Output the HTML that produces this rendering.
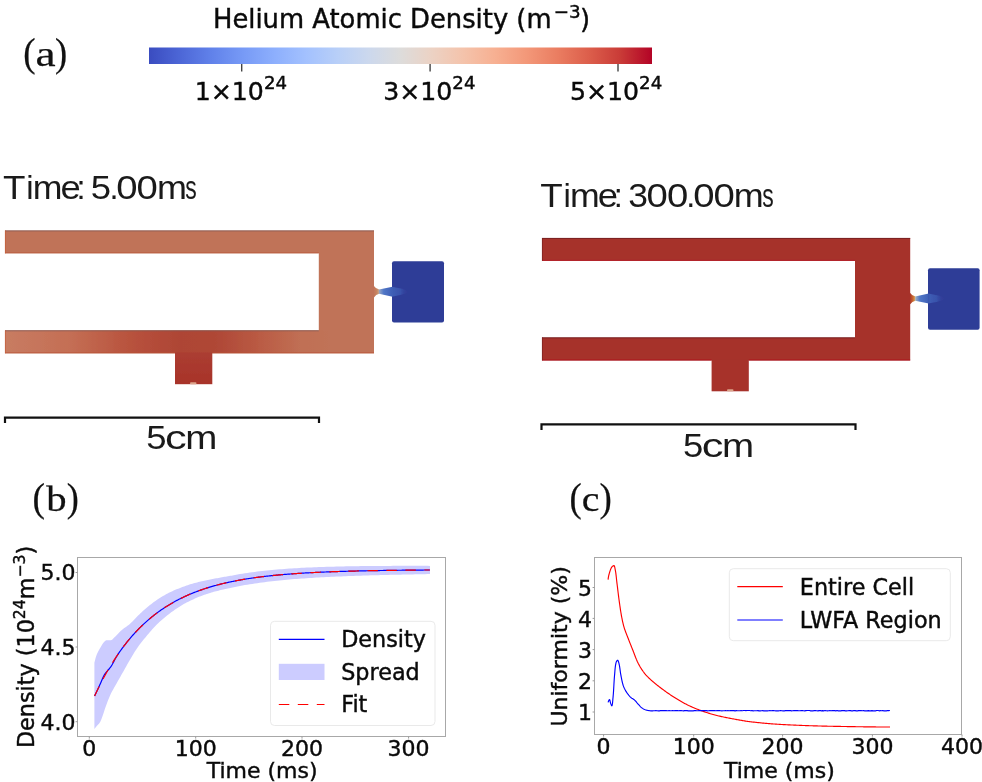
<!DOCTYPE html>
<html lang="en">
<head>
<meta charset="utf-8">
<title>Helium Atomic Density figure</title>
<style>
  html, body { margin: 0; padding: 0; background: #ffffff; }
  body { width: 982px; height: 782px; overflow: hidden; }
  svg { display: block; position: absolute; left: 0; top: 0; filter: blur(0.45px); }
  .mp  { font-family: "DejaVu Sans", "Liberation Sans", sans-serif; fill: #0a0a0a; stroke: #0a0a0a; stroke-width: 0.42; }
  .pv  { font-family: "Liberation Sans", "DejaVu Sans", sans-serif; fill: #1a1a1a; }
  .tex { font-family: "Liberation Serif", "DejaVu Serif", serif; fill: #111; stroke: #111; stroke-width: 0.25; }
  .spine { fill: none; stroke: #a8a8a8; stroke-width: 1; }
  .tick  { stroke: #9a9a9a; stroke-width: 1; }
</style>
</head>
<body>
<svg width="982" height="782" viewBox="0 0 982 782">
  <defs>
    <linearGradient id="coolwarm" x1="0" y1="0" x2="1" y2="0">
      <stop offset="0" stop-color="#3a4cc0"/>
      <stop offset="0.0625" stop-color="#4d67d7"/>
      <stop offset="0.125" stop-color="#6182ea"/>
      <stop offset="0.1875" stop-color="#779af6"/>
      <stop offset="0.25" stop-color="#8daffd"/>
      <stop offset="0.3125" stop-color="#a3c1fe"/>
      <stop offset="0.375" stop-color="#b8cff8"/>
      <stop offset="0.4375" stop-color="#ccd8ed"/>
      <stop offset="0.5" stop-color="#dddcdb"/>
      <stop offset="0.5625" stop-color="#ecd2c4"/>
      <stop offset="0.625" stop-color="#f4c3ab"/>
      <stop offset="0.6875" stop-color="#f7b092"/>
      <stop offset="0.75" stop-color="#f39879"/>
      <stop offset="0.8125" stop-color="#ea7d61"/>
      <stop offset="0.875" stop-color="#dc5e4b"/>
      <stop offset="0.9375" stop-color="#c93b37"/>
      <stop offset="1" stop-color="#b30326"/>
    </linearGradient>
    <linearGradient id="armL" x1="5" y1="0" x2="374" y2="0" gradientUnits="userSpaceOnUse">
      <stop offset="0" stop-color="#c87c62"/>
      <stop offset="0.18" stop-color="#c46e54"/>
      <stop offset="0.34" stop-color="#b8523d"/>
      <stop offset="0.475" stop-color="#ae4535"/>
      <stop offset="0.57" stop-color="#af4736"/>
      <stop offset="0.69" stop-color="#ba5b44"/>
      <stop offset="0.80" stop-color="#c06f54"/>
      <stop offset="0.88" stop-color="#c07358"/>
      <stop offset="1" stop-color="#c07358"/>
    </linearGradient>
    <linearGradient id="inletL" x1="0" y1="353" x2="0" y2="384" gradientUnits="userSpaceOnUse">
      <stop offset="0" stop-color="#ab3d31"/>
      <stop offset="1" stop-color="#a8332a"/>
    </linearGradient>
    <linearGradient id="jet" x1="0" y1="0" x2="1" y2="0">
      <stop offset="0" stop-color="#3f5fb6" stop-opacity="1"/>
      <stop offset="0.5" stop-color="#3b58b0" stop-opacity="0.8"/>
      <stop offset="1" stop-color="#2f3c97" stop-opacity="0"/>
    </linearGradient>
    <linearGradient id="nzLa" x1="373.5" y1="0" x2="379.3" y2="0" gradientUnits="userSpaceOnUse">
      <stop offset="0" stop-color="#c07358"/><stop offset="0.6" stop-color="#c98560"/><stop offset="1" stop-color="#bfae9a"/>
    </linearGradient>
    <linearGradient id="nzLb" x1="379" y1="0" x2="392.5" y2="0" gradientUnits="userSpaceOnUse">
      <stop offset="0" stop-color="#97a6c4"/><stop offset="0.35" stop-color="#5076c6"/><stop offset="1" stop-color="#3f5fb6"/>
    </linearGradient>
    <linearGradient id="nzRa" x1="909.7" y1="0" x2="915.5" y2="0" gradientUnits="userSpaceOnUse">
      <stop offset="0" stop-color="#a6312b"/><stop offset="0.55" stop-color="#c8662f"/><stop offset="1" stop-color="#d9b56a"/>
    </linearGradient>
    <linearGradient id="nzRb" x1="915.2" y1="0" x2="928.7" y2="0" gradientUnits="userSpaceOnUse">
      <stop offset="0" stop-color="#a4b2c0"/><stop offset="0.35" stop-color="#5076c6"/><stop offset="1" stop-color="#3f5fb6"/>
    </linearGradient>
    <filter id="soft" x="-5%" y="-5%" width="110%" height="110%">
      <feGaussianBlur stdDeviation="0.6"/>
    </filter>
  </defs>

  <!-- ================= (a) header: title + colourbar ================= -->
  <text class="mp" x="401.5" y="27.6" font-size="25.8" text-anchor="middle" stroke-width="0.6">Helium Atomic Density (m<tspan font-size="18.3" dy="-10" dx="2.2">−3</tspan><tspan dy="10" dx="-0.8">)</tspan></text>

  <text class="tex" font-size="35.3" y="66.0"><tspan x="23.27" textLength="12.32" lengthAdjust="spacingAndGlyphs" font-size="40">(</tspan><tspan x="35.41" textLength="20.11" lengthAdjust="spacingAndGlyphs">a</tspan><tspan x="54.92" textLength="12.19" lengthAdjust="spacingAndGlyphs" font-size="40">)</tspan></text>

  <rect x="149" y="47.5" width="503" height="16.5" fill="url(#coolwarm)"/>
  <g stroke="#444" stroke-width="1.4">
    <line x1="241.7" y1="64" x2="241.7" y2="71.5"/>
    <line x1="430.1" y1="64" x2="430.1" y2="71.5"/>
    <line x1="618" y1="64" x2="618" y2="71.5"/>
  </g>
  <g class="mp" font-size="25.2" text-anchor="middle" stroke-width="0.75">
    <text x="240.9" y="99.7">1×10<tspan font-size="18.2" dy="-10.6">24</tspan></text>
    <text x="429.3" y="99.7">3×10<tspan font-size="18.2" dy="-10.6">24</tspan></text>
    <text x="616.1" y="99.7">5×10<tspan font-size="18.2" dy="-10.6">24</tspan></text>
  </g>

  <!-- ================= left ParaView snapshot ================= -->
  <text class="pv" font-size="33.1" y="199.3"><tspan x="3.07" textLength="22.47" lengthAdjust="spacingAndGlyphs">T</tspan><tspan x="26.29" textLength="7.33" lengthAdjust="spacingAndGlyphs">i</tspan><tspan x="32.73" textLength="29.72" lengthAdjust="spacingAndGlyphs">m</tspan><tspan x="60.55" textLength="20.27" lengthAdjust="spacingAndGlyphs">e</tspan><tspan x="76.53" textLength="9.05" lengthAdjust="spacingAndGlyphs">:</tspan><tspan x="85.90"> </tspan><tspan x="90.84" textLength="20.29" lengthAdjust="spacingAndGlyphs">5</tspan><tspan x="109.43" textLength="9.05" lengthAdjust="spacingAndGlyphs">.</tspan><tspan x="116.30" textLength="21.29" lengthAdjust="spacingAndGlyphs">0</tspan><tspan x="136.60" textLength="21.29" lengthAdjust="spacingAndGlyphs">0</tspan><tspan x="156.91" textLength="29.96" lengthAdjust="spacingAndGlyphs">m</tspan><tspan x="185.36" textLength="11.47" lengthAdjust="spacingAndGlyphs">s</tspan></text>
  <g filter="url(#soft)">
    <!-- U-shaped cell -->
    <path d="M5,230.5 H374 V353.2 H5 V330.4 H318.8 V253.3 H5 Z" fill="#c07358"/>
    <rect x="5" y="330.4" width="369" height="22.8" fill="url(#armL)"/>
    <g fill="none" stroke-width="1">
      <path d="M5,230.9 H374 M5,330.8 H318.8" stroke="#7d5a55" stroke-opacity="0.75"/>
      <path d="M5,252.9 H318.8 M5,352.8 H175 M212.3,352.8 H374" stroke="#b85334" stroke-opacity="0.7"/>
      <path d="M5.4,230.5 V253.3 M5.4,330.4 V353.2" stroke="#c4603c" stroke-opacity="0.8"/>
    </g>
    <!-- inlet -->
    <rect x="175" y="352.5" width="37.3" height="31.7" fill="url(#inletL)"/>
    <rect x="190" y="382.2" width="6.5" height="2" rx="1" fill="#dca58c"/>
    <!-- nozzle + reservoir -->
    <path d="M373.5,285.5 Q376,289.09999999999997 379.3,289.59999999999997 L379.3,293.8 Q376,294.3 373.5,297.9 Z" fill="url(#nzLa)"/>
    <path d="M379.0,289.59999999999997 L392.5,286.7 V296.7 L379.0,293.8 Z" fill="url(#nzLb)"/>
    <rect x="392" y="261.3" width="52" height="61.3" rx="2" fill="#2f3c97"/>
    <path d="M392,286.7 Q401,288.3 409,290.9 V292.5 Q401,295.09999999999997 392,296.7 Z" fill="url(#jet)"/>
  </g>
  <!-- scale bar -->
  <path d="M5,423 V417.6 H319 V423" fill="none" stroke="#111" stroke-width="2.2"/>
  <text class="pv" font-size="32.5" y="449.4"><tspan x="146.34" textLength="20.29" lengthAdjust="spacingAndGlyphs">5</tspan><tspan x="164.96" textLength="21.69" lengthAdjust="spacingAndGlyphs">c</tspan><tspan x="185.34" textLength="32.10" lengthAdjust="spacingAndGlyphs">m</tspan></text>

  <!-- ================= right ParaView snapshot ================= -->
  <text class="pv" font-size="33.1" y="206.5"><tspan x="540.37" textLength="22.47" lengthAdjust="spacingAndGlyphs">T</tspan><tspan x="563.59" textLength="7.33" lengthAdjust="spacingAndGlyphs">i</tspan><tspan x="570.03" textLength="29.72" lengthAdjust="spacingAndGlyphs">m</tspan><tspan x="597.85" textLength="20.27" lengthAdjust="spacingAndGlyphs">e</tspan><tspan x="613.83" textLength="9.05" lengthAdjust="spacingAndGlyphs">:</tspan><tspan x="623.20"> </tspan><tspan x="628.25" textLength="19.71" lengthAdjust="spacingAndGlyphs">3</tspan><tspan x="646.60" textLength="21.29" lengthAdjust="spacingAndGlyphs">0</tspan><tspan x="666.90" textLength="21.29" lengthAdjust="spacingAndGlyphs">0</tspan><tspan x="686.33" textLength="9.05" lengthAdjust="spacingAndGlyphs">.</tspan><tspan x="693.20" textLength="21.29" lengthAdjust="spacingAndGlyphs">0</tspan><tspan x="713.50" textLength="21.29" lengthAdjust="spacingAndGlyphs">0</tspan><tspan x="733.81" textLength="29.96" lengthAdjust="spacingAndGlyphs">m</tspan><tspan x="762.26" textLength="11.47" lengthAdjust="spacingAndGlyphs">s</tspan></text>
  <g filter="url(#soft)">
    <path d="M542,238 H910.2 V360.4 H542 V337.4 H855 V260.8 H542 Z" fill="#a6312b"/>
    <g fill="none" stroke-width="1">
      <path d="M542,238.4 H910.2 M542,337.8 H855" stroke="#6e1f1f" stroke-opacity="0.8"/>
      <path d="M542,260.4 H855 M542,360 H711.6 M748.8,360 H910.2" stroke="#b0141c" stroke-opacity="0.85"/>
      <path d="M542.4,238 V260.8 M542.4,337.4 V360.4" stroke="#7a2020" stroke-opacity="0.7"/>
    </g>
    <rect x="711.6" y="359.8" width="37.2" height="31.5" fill="#a7322a"/>
    <rect x="727" y="389.3" width="6.5" height="2" rx="1" fill="#dca58c"/>
    <path d="M909.7,292.40000000000003 Q912.2,296.0 915.5,296.5 L915.5,300.70000000000005 Q912.2,301.20000000000005 909.7,304.8 Z" fill="url(#nzRa)"/>
    <path d="M915.2,296.5 L928.7,293.6 V303.6 L915.2,300.70000000000005 Z" fill="url(#nzRb)"/>
    <rect x="928" y="268.3" width="51.6" height="61.5" rx="2" fill="#2f3c97"/>
    <path d="M928.2,293.6 Q937.2,295.20000000000005 945.2,297.8 V299.40000000000003 Q937.2,302.0 928.2,303.6 Z" fill="url(#jet)"/>
  </g>
  <path d="M541.5,430 V424.4 H855.5 V430" fill="none" stroke="#111" stroke-width="2.2"/>
  <text class="pv" font-size="32.5" y="457.0"><tspan x="683.04" textLength="20.29" lengthAdjust="spacingAndGlyphs">5</tspan><tspan x="701.66" textLength="21.69" lengthAdjust="spacingAndGlyphs">c</tspan><tspan x="722.04" textLength="32.10" lengthAdjust="spacingAndGlyphs">m</tspan></text>

  <!-- ================= (b) density plot ================= -->
  <text class="tex" font-size="35.3" y="510.5"><tspan x="32.46" textLength="12.45" lengthAdjust="spacingAndGlyphs" font-size="40">(</tspan><tspan x="46.30" textLength="20.35" lengthAdjust="spacingAndGlyphs">b</tspan><tspan x="66.63" textLength="12.06" lengthAdjust="spacingAndGlyphs" font-size="40">)</tspan></text>
  <path d="M94.40,662.70 L95.58,657.88 L96.76,654.44 L97.94,651.97 L99.13,649.87 L100.31,647.75 L101.49,645.66 L102.67,643.75 L103.85,642.14 L105.03,641.12 L106.22,640.37 L107.40,640.20 L108.58,640.20 L109.76,640.20 L110.94,640.20 L112.12,639.67 L113.30,638.48 L114.49,637.37 L115.67,636.24 L116.85,635.04 L118.03,633.80 L119.21,632.57 L120.39,631.36 L121.57,630.24 L122.76,629.22 L123.94,628.31 L125.12,627.46 L126.30,626.64 L127.48,625.80 L128.66,624.90 L129.85,623.91 L131.03,622.82 L132.21,621.65 L133.39,620.43 L134.57,619.19 L135.75,617.96 L136.93,616.75 L138.12,615.60 L139.30,614.46 L140.48,613.33 L141.66,612.20 L142.84,611.10 L144.02,610.02 L145.21,608.98 L146.39,607.98 L147.57,606.99 L148.75,606.02 L149.93,605.07 L151.11,604.14 L152.29,603.23 L153.48,602.34 L154.66,601.47 L155.84,600.63 L157.02,599.82 L158.20,599.04 L159.38,598.27 L160.56,597.52 L161.75,596.79 L162.93,596.08 L164.11,595.39 L165.29,594.72 L166.47,594.07 L167.65,593.44 L168.84,592.83 L170.02,592.25 L171.20,591.68 L172.38,591.14 L173.56,590.61 L174.74,590.10 L175.92,589.60 L177.11,589.11 L178.29,588.64 L179.47,588.18 L180.65,587.72 L181.83,587.28 L183.01,586.83 L184.19,586.40 L185.38,585.97 L186.56,585.55 L187.74,585.14 L188.92,584.74 L190.10,584.36 L191.28,583.99 L192.47,583.64 L193.65,583.30 L194.83,582.99 L196.01,582.69 L197.19,582.39 L198.37,582.11 L199.55,581.84 L200.74,581.58 L201.92,581.31 L203.10,581.06 L204.28,580.80 L205.46,580.54 L206.64,580.29 L207.83,580.04 L209.01,579.79 L210.19,579.54 L211.37,579.30 L212.55,579.06 L213.73,578.83 L214.91,578.60 L216.10,578.37 L217.28,578.15 L218.46,577.93 L219.64,577.71 L220.82,577.49 L222.00,577.28 L223.18,577.07 L224.37,576.86 L225.55,576.65 L226.73,576.45 L227.91,576.25 L229.09,576.05 L230.27,575.85 L231.46,575.66 L232.64,575.47 L233.82,575.28 L235.00,575.10 L237.47,574.52 L239.94,574.09 L242.41,573.68 L244.87,573.29 L247.34,572.91 L249.81,572.55 L252.28,572.21 L254.75,571.89 L257.22,571.57 L259.68,571.27 L262.15,570.99 L264.62,570.72 L267.09,570.46 L269.56,570.21 L272.03,569.97 L274.49,569.75 L276.96,569.53 L279.43,569.32 L281.90,569.13 L284.37,568.94 L286.84,568.76 L289.30,568.59 L291.77,568.43 L294.24,568.28 L296.71,568.13 L299.18,567.99 L301.65,567.86 L304.11,567.73 L306.58,567.61 L309.05,567.50 L311.52,567.39 L313.99,567.28 L316.46,567.19 L318.92,567.09 L321.39,567.01 L323.86,566.92 L326.33,566.84 L328.80,566.77 L331.27,566.70 L333.73,566.63 L336.20,566.57 L338.67,566.51 L341.14,566.45 L343.61,566.40 L346.08,566.35 L348.54,566.31 L351.01,566.26 L353.48,566.22 L355.95,566.18 L358.42,566.15 L360.89,566.12 L363.35,566.09 L365.82,566.06 L368.29,566.03 L370.76,566.01 L373.23,565.99 L375.70,565.97 L378.16,565.95 L380.63,565.93 L383.10,565.92 L385.57,565.90 L388.04,565.89 L390.51,565.88 L392.97,565.87 L395.44,565.86 L397.91,565.86 L400.38,565.85 L402.85,565.85 L405.32,565.85 L407.78,565.85 L410.25,565.85 L412.72,565.85 L415.19,565.85 L417.66,565.85 L420.13,565.85 L422.59,565.86 L425.06,565.86 L427.53,565.87 L430.00,565.88 L430.00,574.08 L427.53,574.12 L425.06,574.16 L422.59,574.20 L420.13,574.25 L417.66,574.29 L415.19,574.34 L412.72,574.38 L410.25,574.43 L407.78,574.48 L405.32,574.53 L402.85,574.58 L400.38,574.63 L397.91,574.68 L395.44,574.74 L392.97,574.79 L390.51,574.85 L388.04,574.91 L385.57,574.97 L383.10,575.03 L380.63,575.09 L378.16,575.16 L375.70,575.22 L373.23,575.29 L370.76,575.36 L368.29,575.43 L365.82,575.51 L363.35,575.58 L360.89,575.66 L358.42,575.74 L355.95,575.83 L353.48,575.91 L351.01,576.00 L348.54,576.09 L346.08,576.19 L343.61,576.28 L341.14,576.39 L338.67,576.49 L336.20,576.60 L333.73,576.71 L331.27,576.82 L328.80,576.94 L326.33,577.06 L323.86,577.19 L321.39,577.32 L318.92,577.46 L316.46,577.60 L313.99,577.74 L311.52,577.90 L309.05,578.05 L306.58,578.21 L304.11,578.38 L301.65,578.56 L299.18,578.74 L296.71,578.93 L294.24,579.12 L291.77,579.32 L289.30,579.53 L286.84,579.75 L284.37,579.98 L281.90,580.21 L279.43,580.46 L276.96,580.71 L274.49,580.98 L272.03,581.25 L269.56,581.54 L267.09,581.83 L264.62,582.14 L262.15,582.46 L259.68,582.79 L257.22,583.14 L254.75,583.50 L252.28,583.88 L249.81,584.27 L247.34,584.67 L244.87,585.09 L242.41,585.53 L239.94,585.99 L237.47,586.47 L235.00,587.00 L233.82,587.21 L232.64,587.44 L231.46,587.67 L230.27,587.90 L229.09,588.15 L227.91,588.40 L226.73,588.66 L225.55,588.92 L224.37,589.19 L223.18,589.47 L222.00,589.75 L220.82,590.04 L219.64,590.33 L218.46,590.63 L217.28,590.93 L216.10,591.23 L214.91,591.55 L213.73,591.87 L212.55,592.20 L211.37,592.55 L210.19,592.90 L209.01,593.26 L207.83,593.63 L206.64,594.02 L205.46,594.41 L204.28,594.82 L203.10,595.24 L201.92,595.69 L200.74,596.14 L199.55,596.61 L198.37,597.09 L197.19,597.59 L196.01,598.10 L194.83,598.61 L193.65,599.14 L192.47,599.68 L191.28,600.23 L190.10,600.80 L188.92,601.38 L187.74,601.97 L186.56,602.59 L185.38,603.21 L184.19,603.86 L183.01,604.52 L181.83,605.21 L180.65,605.91 L179.47,606.64 L178.29,607.39 L177.11,608.17 L175.92,608.98 L174.74,609.80 L173.56,610.64 L172.38,611.50 L171.20,612.37 L170.02,613.26 L168.84,614.16 L167.65,615.08 L166.47,616.01 L165.29,616.97 L164.11,617.95 L162.93,618.95 L161.75,619.97 L160.56,621.02 L159.38,622.10 L158.20,623.22 L157.02,624.36 L155.84,625.55 L154.66,626.79 L153.48,628.06 L152.29,629.37 L151.11,630.70 L149.93,632.06 L148.75,633.44 L147.57,634.84 L146.39,636.24 L145.21,637.65 L144.02,639.07 L142.84,640.52 L141.66,641.99 L140.48,643.51 L139.30,645.08 L138.12,646.71 L136.93,648.42 L135.75,650.22 L134.57,652.10 L133.39,654.04 L132.21,656.03 L131.03,658.03 L129.85,660.04 L128.66,662.06 L127.48,664.10 L126.30,666.19 L125.12,668.29 L123.94,670.39 L122.76,672.49 L121.57,674.58 L120.39,676.66 L119.21,678.74 L118.03,680.82 L116.85,682.91 L115.67,685.01 L114.49,687.12 L113.30,689.24 L112.12,691.34 L110.94,693.62 L109.76,696.19 L108.58,698.99 L107.40,701.97 L106.22,705.15 L105.03,708.61 L103.85,712.14 L102.67,715.77 L101.49,718.99 L100.31,721.78 L99.13,723.56 L97.94,724.80 L96.76,725.97 L95.58,727.41 L94.40,729.00 Z" fill="#ccccff"/>
  <path d="M94.57,696.06 L95.41,694.25 L96.25,692.46 L97.09,690.70 L97.93,688.94 L98.77,687.16 L99.61,685.35 L100.46,683.46 L101.30,681.49 L102.14,679.48 L102.98,677.53 L103.82,675.77 L104.66,674.28 L105.50,673.06 L106.34,672.04 L107.18,671.11 L108.02,670.20 L108.86,669.25 L109.70,668.23 L110.54,667.11 L111.38,665.87 L112.22,664.49 L113.06,662.98 L113.90,661.40 L114.74,659.82 L115.58,658.28 L116.42,656.82 L117.26,655.45 L118.10,654.14 L118.94,652.90 L119.78,651.69 L120.62,650.50 L121.47,649.34 L122.31,648.20 L123.15,647.08 L123.99,645.97 L124.83,644.87 L125.67,643.80 L126.51,642.74 L127.35,641.69 L128.19,640.66 L129.03,639.64 L129.87,638.64 L130.71,637.65 L131.55,636.68 L132.39,635.72 L133.23,634.77 L134.07,633.84 L134.91,632.92 L135.75,632.01 L136.59,631.12 L137.43,630.24 L138.27,629.37 L139.11,628.52 L139.95,627.67 L140.79,626.84 L141.63,626.02 L142.47,625.22 L143.32,624.42 L144.16,623.64 L145.00,622.86 L145.84,622.10 L146.68,621.35 L147.52,620.61 L148.36,619.88 L149.20,619.16 L150.04,618.45 L150.88,617.75 L151.72,617.06 L152.56,616.38 L153.40,615.71 L154.24,615.05 L155.08,614.40 L155.92,613.76 L156.76,613.13 L157.60,612.51 L158.44,611.89 L159.28,611.29 L160.12,610.69 L160.96,610.10 L161.80,609.52 L162.64,608.95 L163.48,608.39 L164.33,607.83 L165.17,607.29 L166.01,606.75 L166.85,606.21 L167.69,605.69 L168.53,605.17 L169.37,604.66 L170.21,604.16 L171.05,603.67 L171.89,603.18 L172.73,602.70 L173.57,602.23 L174.41,601.76 L175.25,601.30 L176.09,600.84 L176.93,600.40 L177.77,599.96 L178.61,599.52 L179.45,599.09 L180.29,598.67 L181.13,598.26 L181.97,597.84 L182.81,597.44 L183.65,597.04 L184.49,596.65 L185.34,596.26 L186.18,595.88 L187.02,595.50 L187.86,595.13 L188.70,594.77 L189.54,594.41 L190.38,594.05 L191.22,593.70 L192.06,593.36 L192.90,593.02 L193.74,592.68 L194.58,592.35 L195.42,592.02 L196.26,591.70 L197.10,591.39 L197.94,591.07 L198.78,590.77 L199.62,590.46 L200.46,590.17 L201.30,589.87 L202.14,589.58 L202.98,589.29 L203.82,589.01 L204.66,588.73 L205.50,588.46 L206.34,588.19 L207.19,587.92 L208.03,587.66 L208.87,587.40 L209.71,587.15 L210.55,586.90 L211.39,586.65 L212.23,586.40 L213.07,586.16 L213.91,585.93 L214.75,585.69 L215.59,585.46 L216.43,585.23 L217.27,585.01 L218.11,584.79 L218.95,584.57 L219.79,584.36 L220.63,584.15 L221.47,583.94 L222.31,583.73 L223.15,583.53 L223.99,583.33 L224.83,583.13 L225.67,582.94 L226.51,582.75 L227.35,582.56 L228.20,582.37 L229.04,582.19 L229.88,582.01 L230.72,581.83 L231.56,581.66 L232.40,581.48 L233.24,581.31 L234.08,581.15 L234.92,580.98 L235.76,580.82 L236.60,580.66 L237.44,580.50 L238.28,580.34 L239.12,580.19 L239.96,580.04 L240.80,579.89 L241.64,579.74 L242.48,579.59 L243.32,579.45 L244.16,579.31 L245.00,579.17 L245.84,579.03 L246.68,578.90 L247.52,578.76 L248.36,578.63 L249.21,578.50 L250.05,578.37 L250.89,578.25 L251.73,578.12 L252.57,578.00 L253.41,577.88 L254.25,577.76 L255.09,577.65 L255.93,577.53 L256.77,577.42 L257.61,577.30 L258.45,577.19 L259.29,577.08 L260.13,576.98 L260.97,576.87 L261.81,576.77 L262.65,576.66 L263.49,576.56 L264.33,576.46 L265.17,576.36 L266.01,576.27 L266.85,576.17 L267.69,576.08 L268.53,575.98 L269.37,575.89 L270.22,575.80 L271.06,575.71 L271.90,575.62 L272.74,575.54 L273.58,575.45 L274.42,575.37 L275.26,575.29 L276.10,575.20 L276.94,575.12 L277.78,575.04 L278.62,574.97 L279.46,574.89 L280.30,574.81 L281.14,574.74 L281.98,574.66 L282.82,574.59 L283.66,574.52 L284.50,574.45 L285.34,574.38 L286.18,574.31 L287.02,574.24 L287.86,574.18 L288.70,574.11 L289.54,574.05 L290.38,573.98 L291.22,573.92 L292.07,573.86 L292.91,573.79 L293.75,573.73 L294.59,573.67 L295.43,573.62 L296.27,573.56 L297.11,573.50 L297.95,573.45 L298.79,573.39 L299.63,573.34 L300.47,573.28 L301.31,573.23 L302.15,573.18 L302.99,573.12 L303.83,573.07 L304.67,573.02 L305.51,572.97 L306.35,572.93 L307.19,572.88 L308.03,572.83 L308.87,572.78 L309.71,572.74 L310.55,572.69 L311.39,572.65 L312.23,572.60 L313.08,572.56 L313.92,572.52 L314.76,572.48 L315.60,572.43 L316.44,572.39 L317.28,572.35 L318.12,572.31 L318.96,572.27 L319.80,572.24 L320.64,572.20 L321.48,572.16 L322.32,572.12 L323.16,572.09 L324.00,572.05 L324.84,572.01 L325.68,571.98 L326.52,571.95 L327.36,571.91 L328.20,571.88 L329.04,571.85 L329.88,571.81 L330.72,571.78 L331.56,571.75 L332.40,571.72 L333.24,571.69 L334.09,571.66 L334.93,571.63 L335.77,571.60 L336.61,571.57 L337.45,571.54 L338.29,571.51 L339.13,571.48 L339.97,571.46 L340.81,571.43 L341.65,571.40 L342.49,571.38 L343.33,571.35 L344.17,571.33 L345.01,571.30 L345.85,571.28 L346.69,571.25 L347.53,571.23 L348.37,571.20 L349.21,571.18 L350.05,571.16 L350.89,571.14 L351.73,571.11 L352.57,571.09 L353.41,571.07 L354.25,571.05 L355.09,571.03 L355.94,571.01 L356.78,570.99 L357.62,570.97 L358.46,570.95 L359.30,570.93 L360.14,570.91 L360.98,570.89 L361.82,570.87 L362.66,570.85 L363.50,570.83 L364.34,570.81 L365.18,570.80 L366.02,570.78 L366.86,570.76 L367.70,570.74 L368.54,570.73 L369.38,570.71 L370.22,570.69 L371.06,570.68 L371.90,570.66 L372.74,570.65 L373.58,570.63 L374.42,570.62 L375.26,570.60 L376.10,570.59 L376.95,570.57 L377.79,570.56 L378.63,570.54 L379.47,570.53 L380.31,570.52 L381.15,570.50 L381.99,570.49 L382.83,570.48 L383.67,570.46 L384.51,570.45 L385.35,570.44 L386.19,570.43 L387.03,570.41 L387.87,570.40 L388.71,570.39 L389.55,570.38 L390.39,570.37 L391.23,570.36 L392.07,570.34 L392.91,570.33 L393.75,570.32 L394.59,570.31 L395.43,570.30 L396.27,570.29 L397.11,570.28 L397.95,570.27 L398.80,570.26 L399.64,570.25 L400.48,570.24 L401.32,570.23 L402.16,570.22 L403.00,570.21 L403.84,570.20 L404.68,570.19 L405.52,570.19 L406.36,570.18 L407.20,570.17 L408.04,570.16 L408.88,570.15 L409.72,570.14 L410.56,570.13 L411.40,570.13 L412.24,570.12 L413.08,570.11 L413.92,570.10 L414.76,570.10 L415.60,570.09 L416.44,570.08 L417.28,570.07 L418.12,570.07 L418.96,570.06 L419.81,570.05 L420.65,570.05 L421.49,570.04 L422.33,570.03 L423.17,570.03 L424.01,570.02 L424.85,570.01 L425.69,570.01 L426.53,570.00 L427.37,569.99 L428.21,569.99 L429.05,569.98 L429.89,569.98" fill="none" stroke="#0000ff" stroke-width="1.2" stroke-linejoin="round"/>
  <path d="M94.57,696.06 L95.41,694.25 L96.25,692.47 L97.09,690.71 L97.93,688.98 L98.77,687.27 L99.61,685.59 L100.46,683.93 L101.30,682.29 L102.14,680.68 L102.98,679.09 L103.82,677.52 L104.66,675.98 L105.50,674.46 L106.34,672.96 L107.18,671.48 L108.02,670.02 L108.86,668.58 L109.70,667.17 L110.54,665.77 L111.38,664.40 L112.22,663.04 L113.06,661.70 L113.90,660.38 L114.74,659.09 L115.58,657.81 L116.42,656.54 L117.26,655.30 L118.10,654.07 L118.94,652.86 L119.78,651.67 L120.62,650.50 L121.47,649.34 L122.31,648.20 L123.15,647.08 L123.99,645.97 L124.83,644.87 L125.67,643.80 L126.51,642.74 L127.35,641.69 L128.19,640.66 L129.03,639.64 L129.87,638.64 L130.71,637.65 L131.55,636.68 L132.39,635.72 L133.23,634.77 L134.07,633.84 L134.91,632.92 L135.75,632.01 L136.59,631.12 L137.43,630.24 L138.27,629.37 L139.11,628.52 L139.95,627.67 L140.79,626.84 L141.63,626.02 L142.47,625.22 L143.32,624.42 L144.16,623.64 L145.00,622.86 L145.84,622.10 L146.68,621.35 L147.52,620.61 L148.36,619.88 L149.20,619.16 L150.04,618.45 L150.88,617.75 L151.72,617.06 L152.56,616.38 L153.40,615.71 L154.24,615.05 L155.08,614.40 L155.92,613.76 L156.76,613.13 L157.60,612.51 L158.44,611.89 L159.28,611.29 L160.12,610.69 L160.96,610.10 L161.80,609.52 L162.64,608.95 L163.48,608.39 L164.33,607.83 L165.17,607.29 L166.01,606.75 L166.85,606.21 L167.69,605.69 L168.53,605.17 L169.37,604.66 L170.21,604.16 L171.05,603.67 L171.89,603.18 L172.73,602.70 L173.57,602.23 L174.41,601.76 L175.25,601.30 L176.09,600.84 L176.93,600.40 L177.77,599.96 L178.61,599.52 L179.45,599.09 L180.29,598.67 L181.13,598.26 L181.97,597.84 L182.81,597.44 L183.65,597.04 L184.49,596.65 L185.34,596.26 L186.18,595.88 L187.02,595.50 L187.86,595.13 L188.70,594.77 L189.54,594.41 L190.38,594.05 L191.22,593.70 L192.06,593.36 L192.90,593.02 L193.74,592.68 L194.58,592.35 L195.42,592.02 L196.26,591.70 L197.10,591.39 L197.94,591.07 L198.78,590.77 L199.62,590.46 L200.46,590.17 L201.30,589.87 L202.14,589.58 L202.98,589.29 L203.82,589.01 L204.66,588.73 L205.50,588.46 L206.34,588.19 L207.19,587.92 L208.03,587.66 L208.87,587.40 L209.71,587.15 L210.55,586.90 L211.39,586.65 L212.23,586.40 L213.07,586.16 L213.91,585.93 L214.75,585.69 L215.59,585.46 L216.43,585.23 L217.27,585.01 L218.11,584.79 L218.95,584.57 L219.79,584.36 L220.63,584.15 L221.47,583.94 L222.31,583.73 L223.15,583.53 L223.99,583.33 L224.83,583.13 L225.67,582.94 L226.51,582.75 L227.35,582.56 L228.20,582.37 L229.04,582.19 L229.88,582.01 L230.72,581.83 L231.56,581.66 L232.40,581.48 L233.24,581.31 L234.08,581.15 L234.92,580.98 L235.76,580.82 L236.60,580.66 L237.44,580.50 L238.28,580.34 L239.12,580.19 L239.96,580.04 L240.80,579.89 L241.64,579.74 L242.48,579.59 L243.32,579.45 L244.16,579.31 L245.00,579.17 L245.84,579.03 L246.68,578.90 L247.52,578.76 L248.36,578.63 L249.21,578.50 L250.05,578.37 L250.89,578.25 L251.73,578.12 L252.57,578.00 L253.41,577.88 L254.25,577.76 L255.09,577.65 L255.93,577.53 L256.77,577.42 L257.61,577.30 L258.45,577.19 L259.29,577.08 L260.13,576.98 L260.97,576.87 L261.81,576.77 L262.65,576.66 L263.49,576.56 L264.33,576.46 L265.17,576.36 L266.01,576.27 L266.85,576.17 L267.69,576.08 L268.53,575.98 L269.37,575.89 L270.22,575.80 L271.06,575.71 L271.90,575.62 L272.74,575.54 L273.58,575.45 L274.42,575.37 L275.26,575.29 L276.10,575.20 L276.94,575.12 L277.78,575.04 L278.62,574.97 L279.46,574.89 L280.30,574.81 L281.14,574.74 L281.98,574.66 L282.82,574.59 L283.66,574.52 L284.50,574.45 L285.34,574.38 L286.18,574.31 L287.02,574.24 L287.86,574.18 L288.70,574.11 L289.54,574.05 L290.38,573.98 L291.22,573.92 L292.07,573.86 L292.91,573.79 L293.75,573.73 L294.59,573.67 L295.43,573.62 L296.27,573.56 L297.11,573.50 L297.95,573.45 L298.79,573.39 L299.63,573.34 L300.47,573.28 L301.31,573.23 L302.15,573.18 L302.99,573.12 L303.83,573.07 L304.67,573.02 L305.51,572.97 L306.35,572.93 L307.19,572.88 L308.03,572.83 L308.87,572.78 L309.71,572.74 L310.55,572.69 L311.39,572.65 L312.23,572.60 L313.08,572.56 L313.92,572.52 L314.76,572.48 L315.60,572.43 L316.44,572.39 L317.28,572.35 L318.12,572.31 L318.96,572.27 L319.80,572.24 L320.64,572.20 L321.48,572.16 L322.32,572.12 L323.16,572.09 L324.00,572.05 L324.84,572.01 L325.68,571.98 L326.52,571.95 L327.36,571.91 L328.20,571.88 L329.04,571.85 L329.88,571.81 L330.72,571.78 L331.56,571.75 L332.40,571.72 L333.24,571.69 L334.09,571.66 L334.93,571.63 L335.77,571.60 L336.61,571.57 L337.45,571.54 L338.29,571.51 L339.13,571.48 L339.97,571.46 L340.81,571.43 L341.65,571.40 L342.49,571.38 L343.33,571.35 L344.17,571.33 L345.01,571.30 L345.85,571.28 L346.69,571.25 L347.53,571.23 L348.37,571.20 L349.21,571.18 L350.05,571.16 L350.89,571.14 L351.73,571.11 L352.57,571.09 L353.41,571.07 L354.25,571.05 L355.09,571.03 L355.94,571.01 L356.78,570.99 L357.62,570.97 L358.46,570.95 L359.30,570.93 L360.14,570.91 L360.98,570.89 L361.82,570.87 L362.66,570.85 L363.50,570.83 L364.34,570.81 L365.18,570.80 L366.02,570.78 L366.86,570.76 L367.70,570.74 L368.54,570.73 L369.38,570.71 L370.22,570.69 L371.06,570.68 L371.90,570.66 L372.74,570.65 L373.58,570.63 L374.42,570.62 L375.26,570.60 L376.10,570.59 L376.95,570.57 L377.79,570.56 L378.63,570.54 L379.47,570.53 L380.31,570.52 L381.15,570.50 L381.99,570.49 L382.83,570.48 L383.67,570.46 L384.51,570.45 L385.35,570.44 L386.19,570.43 L387.03,570.41 L387.87,570.40 L388.71,570.39 L389.55,570.38 L390.39,570.37 L391.23,570.36 L392.07,570.34 L392.91,570.33 L393.75,570.32 L394.59,570.31 L395.43,570.30 L396.27,570.29 L397.11,570.28 L397.95,570.27 L398.80,570.26 L399.64,570.25 L400.48,570.24 L401.32,570.23 L402.16,570.22 L403.00,570.21 L403.84,570.20 L404.68,570.19 L405.52,570.19 L406.36,570.18 L407.20,570.17 L408.04,570.16 L408.88,570.15 L409.72,570.14 L410.56,570.13 L411.40,570.13 L412.24,570.12 L413.08,570.11 L413.92,570.10 L414.76,570.10 L415.60,570.09 L416.44,570.08 L417.28,570.07 L418.12,570.07 L418.96,570.06 L419.81,570.05 L420.65,570.05 L421.49,570.04 L422.33,570.03 L423.17,570.03 L424.01,570.02 L424.85,570.01 L425.69,570.01 L426.53,570.00 L427.37,569.99 L428.21,569.99 L429.05,569.98 L429.89,569.98" fill="none" stroke="#ff0000" stroke-width="1.2" stroke-dasharray="10.5 8.5"/>
  <rect class="spine" x="77.5" y="557.5" width="368" height="179"/>
  <g class="tick">
    <line x1="75.6" y1="572.5" x2="77.5" y2="572.5"/>
    <line x1="75.6" y1="647" x2="77.5" y2="647"/>
    <line x1="75.6" y1="721.7" x2="77.5" y2="721.7"/>
    <line x1="89.3" y1="736.5" x2="89.3" y2="738.6"/>
    <line x1="195.7" y1="736.5" x2="195.7" y2="738.6"/>
    <line x1="302" y1="736.5" x2="302" y2="738.6"/>
    <line x1="408.6" y1="736.5" x2="408.6" y2="738.6"/>
  </g>
  <g class="mp" font-size="22" text-anchor="end">
    <text x="75.4" y="580.2">5.0</text>
    <text x="75.4" y="655">4.5</text>
    <text x="75.4" y="730">4.0</text>
  </g>
  <g class="mp" font-size="22" text-anchor="middle">
    <text x="89.3" y="755.8">0</text>
    <text x="195.7" y="755.8">100</text>
    <text x="302" y="755.8">200</text>
    <text x="408.6" y="755.8">300</text>
    <text x="262.1" y="778.3">Time (ms)</text>
  </g>
  <text class="mp" font-size="22.3" text-anchor="middle" transform="translate(33.6 647) rotate(-90)">Density (10<tspan font-size="15.6" dy="-8.5">24</tspan><tspan dy="8.5">m</tspan><tspan font-size="15.6" dy="-8.5">−3</tspan><tspan dy="8.5">)</tspan></text>
  <!-- legend (b) -->
  <rect x="270.5" y="621.3" width="164.5" height="104.2" rx="4" fill="#ffffff" fill-opacity="0.8" stroke="#e9e9e9" stroke-width="1"/>
  <line x1="278.8" y1="639.3" x2="324.5" y2="639.3" stroke="#0000ff" stroke-width="1.2"/>
  <rect x="278.8" y="663.8" width="45.7" height="16.2" fill="#ccccff"/>
  <line x1="278.8" y1="704.5" x2="324.5" y2="704.5" stroke="#ff0000" stroke-width="1.2" stroke-dasharray="10.5 8.5"/>
  <g class="mp" font-size="22.3">
    <text x="341.2" y="647">Density</text>
    <text x="341.2" y="679.5">Spread</text>
    <text x="341.2" y="712">Fit</text>
  </g>

  <!-- ================= (c) uniformity plot ================= -->
  <text class="tex" font-size="35.3" y="510.5"><tspan x="569.39" textLength="12.19" lengthAdjust="spacingAndGlyphs" font-size="40">(</tspan><tspan x="581.69" textLength="17.64" lengthAdjust="spacingAndGlyphs">c</tspan><tspan x="599.41" textLength="12.32" lengthAdjust="spacingAndGlyphs" font-size="40">)</tspan></text>
  <path d="M608.10,579.60 L608.19,578.61 L608.33,577.63 L608.50,576.66 L608.70,575.70 L608.92,574.76 L609.17,573.82 L609.44,572.89 L609.72,571.98 L610.01,571.07 L610.33,570.13 L610.69,569.17 L611.11,568.24 L611.59,567.38 L612.14,566.66 L612.93,566.03 L613.82,565.61 L614.26,565.85 L614.61,566.67 L614.89,567.80 L615.12,569.02 L615.32,570.09 L615.49,571.03 L615.65,571.99 L615.79,572.94 L615.92,573.90 L616.04,574.87 L616.16,575.83 L616.26,576.80 L616.37,577.77 L616.47,578.74 L616.57,579.72 L616.67,580.69 L616.78,581.65 L616.90,582.62 L617.02,583.58 L617.14,584.55 L617.26,585.51 L617.38,586.47 L617.50,587.44 L617.61,588.40 L617.73,589.37 L617.84,590.33 L617.96,591.30 L618.08,592.26 L618.20,593.23 L618.31,594.19 L618.43,595.15 L618.56,596.12 L618.68,597.08 L618.80,598.04 L618.93,599.01 L619.06,599.97 L619.19,600.93 L619.32,601.89 L619.46,602.86 L619.59,603.82 L619.73,604.78 L619.86,605.74 L620.00,606.70 L620.14,607.67 L620.29,608.63 L620.43,609.59 L620.58,610.55 L620.73,611.51 L620.89,612.47 L621.05,613.42 L621.21,614.38 L621.38,615.34 L621.55,616.29 L621.73,617.25 L621.92,618.20 L622.11,619.16 L622.30,620.11 L622.50,621.06 L622.71,622.01 L622.93,622.96 L623.16,623.91 L623.39,624.85 L623.63,625.78 L623.89,626.72 L624.16,627.64 L624.45,628.57 L624.76,629.49 L625.08,630.40 L625.41,631.31 L625.75,632.23 L626.10,633.14 L626.45,634.04 L626.81,634.95 L627.17,635.86 L627.53,636.76 L627.89,637.67 L628.24,638.57 L628.58,639.48 L628.93,640.39 L629.28,641.29 L629.64,642.20 L630.00,643.10 L630.36,644.00 L630.72,644.90 L631.08,645.81 L631.44,646.71 L631.80,647.61 L632.16,648.51 L632.53,649.41 L632.89,650.31 L633.24,651.22 L633.59,652.12 L633.94,653.03 L634.28,653.95 L634.63,654.86 L634.97,655.77 L635.32,656.68 L635.67,657.59 L636.03,658.49 L636.39,659.39 L636.77,660.28 L637.16,661.17 L637.57,662.04 L638.00,662.91 L638.43,663.77 L638.89,664.63 L639.36,665.49 L639.84,666.34 L640.34,667.18 L640.85,668.01 L641.37,668.83 L641.89,669.64 L642.43,670.44 L642.99,671.24 L643.57,672.02 L644.16,672.79 L644.77,673.56 L645.40,674.31 L646.03,675.05 L646.68,675.77 L647.33,676.47 L648.01,677.16 L648.70,677.84 L649.40,678.51 L650.12,679.17 L650.84,679.82 L651.57,680.47 L652.31,681.11 L653.05,681.74 L653.80,682.37 L654.54,683.00 L655.28,683.62 L656.03,684.24 L656.78,684.85 L657.54,685.46 L658.31,686.06 L659.07,686.65 L659.85,687.25 L660.62,687.83 L661.40,688.42 L662.18,689.00 L662.96,689.57 L663.75,690.14 L664.53,690.71 L665.32,691.28 L666.11,691.85 L666.90,692.41 L667.70,692.97 L668.50,693.52 L669.30,694.08 L670.10,694.62 L670.91,695.17 L671.71,695.71 L672.53,696.24 L673.34,696.77 L674.16,697.30 L674.98,697.81 L675.80,698.32 L676.63,698.83 L677.46,699.34 L678.29,699.84 L679.13,700.34 L679.97,700.83 L680.81,701.32 L681.65,701.80 L682.50,702.28 L683.35,702.75 L684.21,703.21 L685.07,703.67 L685.93,704.11 L686.79,704.55 L687.66,704.97 L688.53,705.40 L689.41,705.81 L690.29,706.22 L691.18,706.63 L692.07,707.02 L692.96,707.42 L693.85,707.80 L694.75,708.18 L695.65,708.55 L696.55,708.91 L697.45,709.26 L698.36,709.61 L699.27,709.95 L700.18,710.28 L701.09,710.62 L702.00,710.94 L702.92,711.27 L703.84,711.59 L704.76,711.90 L705.68,712.21 L706.61,712.52 L707.53,712.82 L708.46,713.11 L709.39,713.40 L710.32,713.68 L711.25,713.96 L712.19,714.23 L713.12,714.49 L714.06,714.75 L714.99,715.00 L715.93,715.24 L716.87,715.48 L717.81,715.71 L718.76,715.94 L719.70,716.16 L720.65,716.37 L721.60,716.58 L722.55,716.79 L723.50,716.99 L724.46,717.19 L725.41,717.38 L726.36,717.58 L727.31,717.76 L728.27,717.95 L729.22,718.14 L730.17,718.32 L731.13,718.51 L732.08,718.69 L733.03,718.87 L733.99,719.06 L734.95,719.24 L735.90,719.42 L736.86,719.59 L737.81,719.77 L738.77,719.94 L739.73,720.11 L740.69,720.28 L741.65,720.44 L742.61,720.60 L743.57,720.76 L744.53,720.91 L745.49,721.06 L746.45,721.21 L747.41,721.35 L748.37,721.48 L749.33,721.61 L750.29,721.74 L751.25,721.85 L752.22,721.97 L753.18,722.08 L754.14,722.18 L755.11,722.29 L756.07,722.39 L757.04,722.49 L758.00,722.59 L758.97,722.69 L759.93,722.79 L760.90,722.88 L761.87,722.98 L762.83,723.07 L763.80,723.16 L764.77,723.25 L765.74,723.33 L766.71,723.42 L767.68,723.50 L768.64,723.58 L769.61,723.66 L770.58,723.74 L771.55,723.81 L772.52,723.89 L773.49,723.96 L774.46,724.03 L775.43,724.10 L776.40,724.16 L777.37,724.23 L778.34,724.29 L779.31,724.35 L780.28,724.41 L781.25,724.46 L782.22,724.52 L783.19,724.57 L784.16,724.62 L785.13,724.67 L786.10,724.72 L787.07,724.77 L788.04,724.82 L789.01,724.86 L789.98,724.91 L790.95,724.95 L791.92,725.00 L792.89,725.04 L793.86,725.09 L794.83,725.13 L795.80,725.17 L796.77,725.22 L797.74,725.26 L798.71,725.30 L799.68,725.34 L800.65,725.38 L801.62,725.42 L802.59,725.45 L803.56,725.49 L804.53,725.53 L805.50,725.56 L806.48,725.60 L807.45,725.63 L808.42,725.67 L809.39,725.70 L810.36,725.73 L811.33,725.77 L812.30,725.80 L813.27,725.83 L814.24,725.86 L815.22,725.89 L816.19,725.91 L817.16,725.94 L818.13,725.97 L819.10,725.99 L820.07,726.02 L821.04,726.04 L822.01,726.07 L822.98,726.09 L823.96,726.11 L824.93,726.14 L825.90,726.16 L826.87,726.18 L827.84,726.20 L828.81,726.22 L829.78,726.23 L830.75,726.25 L831.72,726.27 L832.69,726.29 L833.67,726.31 L834.64,726.33 L835.61,726.35 L836.58,726.37 L837.55,726.38 L838.52,726.40 L839.49,726.42 L840.46,726.44 L841.43,726.46 L842.41,726.48 L843.38,726.49 L844.35,726.51 L845.32,726.53 L846.29,726.55 L847.26,726.56 L848.23,726.58 L849.20,726.60 L850.17,726.61 L851.15,726.63 L852.12,726.64 L853.09,726.66 L854.06,726.68 L855.03,726.69 L856.00,726.71 L856.97,726.72 L857.94,726.74 L858.92,726.75 L859.89,726.76 L860.86,726.78 L861.83,726.79 L862.80,726.80 L863.77,726.82 L864.74,726.83 L865.71,726.84 L866.69,726.85 L867.66,726.86 L868.63,726.87 L869.60,726.89 L870.57,726.90 L871.54,726.90 L872.51,726.91 L873.48,726.92 L874.46,726.93 L875.43,726.94 L876.40,726.95 L877.37,726.95 L878.34,726.96 L879.31,726.97 L880.28,726.97 L881.26,726.98 L882.23,726.98 L883.20,726.99 L884.17,726.99 L885.14,726.99 L886.11,727.00 L887.09,727.00 L888.06,727.00 L889.03,727.00 L890.00,727.00" fill="none" stroke="#ff0000" stroke-width="1.15" stroke-linejoin="round"/>
  <path d="M608.10,702.40 L608.41,701.44 L608.71,700.67 L608.99,700.10 L609.25,699.73 L609.48,699.60 L609.69,699.75 L609.87,700.17 L610.04,700.81 L610.20,701.55 L610.37,702.34 L610.56,703.07 L610.77,703.69 L611.06,704.40 L611.36,705.12 L611.64,705.64 L611.83,705.80 L611.97,705.67 L612.10,705.39 L612.21,704.97 L612.32,704.43 L612.42,703.79 L612.51,703.08 L612.60,702.31 L612.67,701.51 L612.75,700.69 L612.81,699.89 L612.88,699.12 L612.94,698.40 L613.01,697.75 L613.07,697.13 L613.12,696.52 L613.18,695.91 L613.23,695.29 L613.28,694.68 L613.33,694.06 L613.38,693.45 L613.42,692.83 L613.46,692.22 L613.51,691.60 L613.55,690.98 L613.58,690.37 L613.62,689.75 L613.66,689.14 L613.70,688.52 L613.73,687.90 L613.77,687.28 L613.80,686.67 L613.84,686.05 L613.87,685.43 L613.90,684.82 L613.94,684.20 L613.97,683.58 L614.01,682.96 L614.04,682.35 L614.08,681.73 L614.12,681.11 L614.16,680.50 L614.20,679.88 L614.24,679.26 L614.28,678.65 L614.33,678.03 L614.37,677.42 L614.42,676.80 L614.47,676.19 L614.52,675.57 L614.58,674.96 L614.63,674.34 L614.69,673.72 L614.74,673.10 L614.79,672.46 L614.84,671.83 L614.89,671.19 L614.94,670.56 L615.00,669.92 L615.05,669.28 L615.11,668.65 L615.18,668.01 L615.25,667.39 L615.32,666.76 L615.40,666.15 L615.49,665.54 L615.58,664.94 L615.69,664.35 L615.80,663.77 L615.92,663.20 L616.06,662.64 L616.20,662.10 L616.46,661.48 L616.87,660.84 L617.31,660.35 L617.65,660.21 L617.95,660.46 L618.22,661.00 L618.48,661.70 L618.70,662.45 L618.88,663.13 L619.03,663.72 L619.17,664.31 L619.30,664.91 L619.42,665.51 L619.52,666.11 L619.63,666.72 L619.72,667.33 L619.81,667.94 L619.90,668.56 L619.98,669.17 L620.06,669.79 L620.15,670.41 L620.23,671.02 L620.31,671.64 L620.40,672.26 L620.49,672.87 L620.59,673.49 L620.69,674.10 L620.80,674.70 L620.92,675.31 L621.03,675.92 L621.14,676.53 L621.26,677.14 L621.37,677.75 L621.49,678.36 L621.61,678.97 L621.73,679.58 L621.86,680.19 L621.99,680.80 L622.12,681.40 L622.26,682.00 L622.41,682.60 L622.56,683.20 L622.72,683.79 L622.88,684.37 L623.06,684.96 L623.24,685.54 L623.45,686.11 L623.67,686.69 L623.91,687.26 L624.16,687.84 L624.42,688.40 L624.70,688.96 L624.98,689.52 L625.28,690.07 L625.58,690.61 L625.88,691.14 L626.20,691.66 L626.52,692.18 L626.85,692.69 L627.20,693.21 L627.57,693.72 L627.94,694.22 L628.33,694.72 L628.72,695.20 L629.13,695.68 L629.55,696.14 L629.97,696.58 L630.40,697.01 L630.84,697.43 L631.31,697.81 L631.81,698.17 L632.33,698.51 L632.86,698.85 L633.39,699.19 L633.90,699.54 L634.39,699.92 L634.84,700.32 L635.26,700.76 L635.67,701.22 L636.07,701.69 L636.47,702.18 L636.86,702.66 L637.26,703.13 L637.68,703.59 L638.10,704.05 L638.51,704.52 L638.93,704.99 L639.35,705.47 L639.77,705.94 L640.20,706.39 L640.64,706.83 L641.09,707.25 L641.55,707.63 L642.03,707.99 L642.53,708.31 L643.05,708.63 L643.59,708.94 L644.15,709.23 L644.73,709.51 L645.31,709.75 L645.90,709.96 L646.49,710.13 L647.07,710.25 L647.66,710.37 L648.26,710.47 L648.86,710.57 L649.47,710.67 L650.08,710.74 L650.71,710.81 L651.33,710.86 L651.96,710.89 L652.60,710.90 L653.50,710.72 L654.70,710.79 L655.90,710.61 L657.10,710.70 L658.30,710.87 L659.50,710.87 L660.70,710.54 L661.90,710.57 L663.10,710.50 L664.30,710.67 L665.50,710.49 L666.70,710.68 L667.90,710.77 L669.10,710.60 L670.30,710.78 L671.50,710.74 L672.70,710.49 L673.90,710.73 L675.10,710.59 L676.30,710.66 L677.50,710.60 L678.70,710.78 L679.90,710.67 L681.10,710.55 L682.30,710.72 L683.50,710.82 L684.70,710.61 L685.90,710.58 L687.10,710.65 L688.30,710.89 L689.50,710.91 L690.70,710.78 L691.90,710.88 L693.10,710.85 L694.30,710.65 L695.50,710.52 L696.70,710.77 L697.90,710.73 L699.10,710.64 L700.30,710.58 L701.50,710.66 L702.70,710.69 L703.90,710.60 L705.10,710.61 L706.30,710.68 L707.50,710.86 L708.70,710.74 L709.90,710.60 L711.10,710.60 L712.30,710.68 L713.50,710.57 L714.70,710.57 L715.90,710.71 L717.10,710.52 L718.30,710.69 L719.50,710.64 L720.70,710.79 L721.90,710.81 L723.10,710.78 L724.30,710.78 L725.50,710.64 L726.70,710.77 L727.90,710.63 L729.10,710.73 L730.30,710.62 L731.50,710.68 L732.70,710.51 L733.90,710.59 L735.10,710.91 L736.30,710.58 L737.50,710.78 L738.70,710.77 L739.90,710.80 L741.10,710.69 L742.30,710.74 L743.50,710.51 L744.70,710.51 L745.90,710.57 L747.10,710.55 L748.30,710.52 L749.50,710.54 L750.70,710.72 L751.90,710.56 L753.10,710.90 L754.30,710.78 L755.50,710.72 L756.70,710.79 L757.90,710.60 L759.10,710.89 L760.30,710.85 L761.50,710.80 L762.70,710.69 L763.90,710.85 L765.10,710.81 L766.30,710.77 L767.50,710.88 L768.70,710.76 L769.90,710.64 L771.10,710.72 L772.30,710.57 L773.50,710.56 L774.70,710.80 L775.90,710.83 L777.10,710.91 L778.30,710.85 L779.50,710.72 L780.70,710.52 L781.90,710.70 L783.10,710.89 L784.30,710.83 L785.50,710.69 L786.70,710.68 L787.90,710.58 L789.10,710.56 L790.30,710.51 L791.50,710.87 L792.70,710.76 L793.90,710.54 L795.10,710.66 L796.30,710.50 L797.50,710.57 L798.70,710.80 L799.90,710.77 L801.10,710.69 L802.30,710.60 L803.50,710.77 L804.70,710.90 L805.90,710.67 L807.10,710.51 L808.30,710.51 L809.50,710.52 L810.70,710.90 L811.90,710.72 L813.10,710.85 L814.30,710.55 L815.50,710.59 L816.70,710.78 L817.90,710.87 L819.10,710.63 L820.30,710.51 L821.50,710.86 L822.70,710.61 L823.90,710.81 L825.10,710.55 L826.30,710.79 L827.50,710.85 L828.70,710.80 L829.90,710.64 L831.10,710.80 L832.30,710.54 L833.50,710.62 L834.70,710.66 L835.90,710.87 L837.10,710.55 L838.30,710.87 L839.50,710.83 L840.70,710.91 L841.90,710.64 L843.10,710.57 L844.30,710.59 L845.50,710.84 L846.70,710.90 L847.90,710.79 L849.10,710.69 L850.30,710.61 L851.50,710.85 L852.70,710.86 L853.90,710.52 L855.10,710.58 L856.30,710.85 L857.50,710.85 L858.70,710.62 L859.90,710.60 L861.10,710.67 L862.30,710.72 L863.50,710.52 L864.70,710.85 L865.90,710.72 L867.10,710.82 L868.30,710.58 L869.50,710.90 L870.70,710.81 L871.90,710.63 L873.10,710.90 L874.30,710.79 L875.50,710.85 L876.70,710.50 L877.90,710.50 L879.10,710.81 L880.30,710.61 L881.50,710.71 L882.70,710.55 L883.90,710.91 L885.10,710.70 L886.30,710.84 L887.50,710.51 L888.70,710.69 L889.90,710.51" fill="none" stroke="#0000ff" stroke-width="1.15" stroke-linejoin="round"/>
  <rect class="spine" x="594.5" y="557.5" width="367" height="177"/>
  <g class="tick">
    <line x1="592.6" y1="587.5" x2="594.5" y2="587.5"/>
    <line x1="592.6" y1="618.4" x2="594.5" y2="618.4"/>
    <line x1="592.6" y1="649.6" x2="594.5" y2="649.6"/>
    <line x1="592.6" y1="680.8" x2="594.5" y2="680.8"/>
    <line x1="592.6" y1="712" x2="594.5" y2="712"/>
    <line x1="603.6" y1="734.5" x2="603.6" y2="736.6"/>
    <line x1="693.7" y1="734.5" x2="693.7" y2="736.6"/>
    <line x1="782.6" y1="734.5" x2="782.6" y2="736.6"/>
    <line x1="872.4" y1="734.5" x2="872.4" y2="736.6"/>
    <line x1="962" y1="734.5" x2="962" y2="736.6"/>
  </g>
  <g class="mp" font-size="22" text-anchor="end">
    <text x="592" y="595.7">5</text>
    <text x="592" y="626.5">4</text>
    <text x="592" y="657.7">3</text>
    <text x="592" y="688.9">2</text>
    <text x="592" y="720.1">1</text>
  </g>
  <g class="mp" font-size="22" text-anchor="middle">
    <text x="603.6" y="754.2">0</text>
    <text x="693.7" y="754.2">100</text>
    <text x="782.6" y="754.2">200</text>
    <text x="872.4" y="754.2">300</text>
    <text x="962" y="754.2">400</text>
    <text x="779.4" y="778.3">Time (ms)</text>
  </g>
  <text class="mp" font-size="22" text-anchor="middle" transform="translate(567.0 646.4) rotate(-90)">Uniformity (%)</text>
  <!-- legend (c) -->
  <rect x="729.3" y="568.7" width="221" height="72" rx="4" fill="#ffffff" fill-opacity="0.8" stroke="#e9e9e9" stroke-width="1"/>
  <line x1="737.3" y1="586.6" x2="782.8" y2="586.6" stroke="#ff0000" stroke-width="1.15"/>
  <line x1="737.3" y1="620" x2="782.8" y2="620" stroke="#0000ff" stroke-width="1.15"/>
  <g class="mp" font-size="22.3">
    <text x="799.8" y="594.6">Entire Cell</text>
    <text x="799.8" y="627.5">LWFA Region</text>
  </g>
</svg>
</body>
</html>
